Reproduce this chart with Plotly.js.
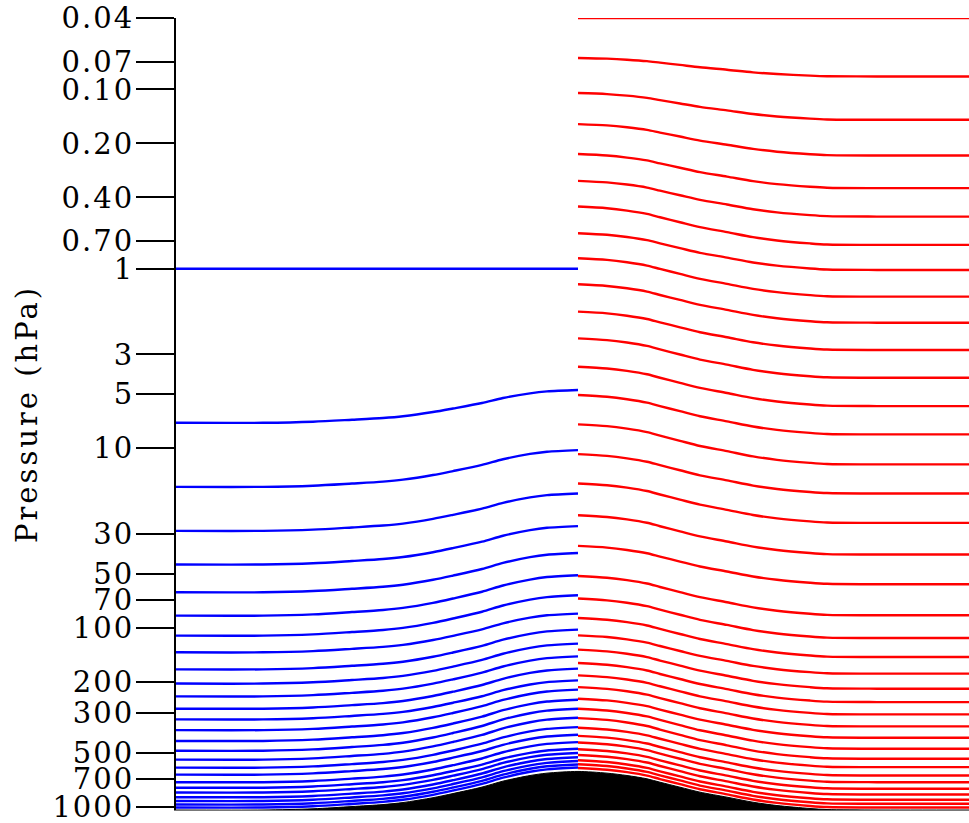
<!DOCTYPE html>
<html>
<head>
<meta charset="utf-8">
<script src="https://cdn.plot.ly/plotly-3.0.1.min.js"></script>
<style>
html,body{margin:0;padding:0;background:#fff;}
#chart{width:969px;height:823px;}
.ytick text{letter-spacing:2px;}
.g-ytitle text{letter-spacing:3px;}
</style>
</head>
<body>
<div id="chart"></div>
<script>
// Horizontal position (arbitrary distance units, 0 = top of the hill)
const terrainX  = [-402, -315, -265, -226, -195, -175, -145, -125, -96, -75, -48, -31, 0, 29, 49, 69, 82, 102, 122, 149, 175, 199, 232, 249, 299, 391];
// Surface pressure (hPa) along the section
const terrainPs = [1040, 1040, 1024, 995, 970, 945, 888, 842, 775, 718, 668, 648, 634, 648, 668, 697, 728, 776, 827, 882, 941, 982, 1020, 1034, 1040, 1040];

// Blue model levels (left half): pressure over flat ground and at the hill top
const blueFlat = [1, 7.22, 16.43, 28.9, 44.5, 63.6, 85.8, 110.9, 137.4, 171, 205.2, 241.9, 283.3, 325.1, 373, 428.6, 485.9, 544.9, 604, 660.7, 727.8, 781, 830.5, 882.2, 926.4, 969, 1007];
const bluePeak = [1, 4.74, 10.25, 17.89, 27.2, 38.4, 51.1, 66.1, 83.6, 102.7, 122.9, 144.7, 169.5, 197, 221.9, 252.4, 283.3, 318, 358.9, 395.7, 435.2, 473.6, 500, 528, 555, 580, 603];

// Red model levels (right half): pressure over flat ground and at the hill top
const redFlat = [0.04, 0.0847, 0.1477, 0.2336, 0.3553, 0.5117, 0.7361, 1.015, 1.43, 1.998, 2.837, 4.051, 5.826, 8.38, 12.32, 17.89, 26.1, 39.17, 57.35, 85.44, 114.4, 146, 180.7, 219.2, 260.3, 304.8, 355.7, 411.4, 473.6, 538.7, 600.1, 667.6, 727.8, 792, 852.2, 912, 960.5, 1007];
const redPeak = [0.04, 0.0668, 0.1048, 0.1561, 0.2294, 0.3234, 0.45, 0.6333, 0.8732, 1.2197, 1.734, 2.442, 3.516, 5.058, 7.371, 10.8, 15.73, 23.64, 35.07, 51.56, 68.93, 88.46, 110.5, 132.7, 157.7, 184.7, 214.7, 249.2, 283.3, 319.7, 361.7, 401.8, 436.9, 476.7, 512.9, 549.2, 578.1, 606.2];

// Axis ticks
const tickVals = [0.04, 0.07, 0.1, 0.2, 0.4, 0.7, 1, 3, 5, 10, 30, 50, 70, 100, 200, 300, 500, 700, 1000];
const tickText = ['0.04', '0.07', '0.10', '0.20', '0.40', '0.70', '1', '3', '5', '10', '30', '50', '70', '100', '200', '300', '500', '700', '1000'];

const psFlat = terrainPs[0];
const psPeak = terrainPs[terrainX.indexOf(0)];

// level pressure follows surface pressure linearly (hybrid coordinate)
function levelTrace(pf, pp, side, color) {
  const xs = [], ys = [];
  terrainX.forEach((x, i) => {
    if ((side === 'left' && x <= 0) || (side === 'right' && x >= 0)) {
      const ps = terrainPs[i];
      xs.push(x);
      ys.push(pp + (pf - pp) * (ps - psPeak) / (psFlat - psPeak));
    }
  });
  return {x: xs, y: ys, type: 'scatter', mode: 'lines',
          line: {color: color, width: 2.4, shape: 'spline', smoothing: 0.8},
          hoverinfo: 'skip', showlegend: false};
}

const traces = [];
blueFlat.forEach((pf, k) => traces.push(levelTrace(pf, bluePeak[k], 'left', '#0000ff')));
redFlat.forEach((pf, k) => traces.push(levelTrace(pf, redPeak[k], 'right', '#ff0000')));

// terrain: baseline below the axis, then the surface filled down to it
traces.push({
  x: [terrainX[0], terrainX[terrainX.length - 1]], y: [3000, 3000],
  type: 'scatter', mode: 'lines', line: {width: 0, color: '#000000'},
  hoverinfo: 'skip', showlegend: false
});
traces.push({
  x: terrainX, y: terrainPs,
  type: 'scatter', mode: 'lines', fill: 'tonexty', fillcolor: '#000000',
  line: {color: '#000000', width: 1, shape: 'spline', smoothing: 0.8},
  hoverinfo: 'skip', showlegend: false
});

const font = {family: 'DejaVu Serif', size: 29, color: '#000000'};

const layout = {
  width: 969, height: 823,
  margin: {l: 176, r: 0, t: 18, b: 13},
  paper_bgcolor: '#ffffff', plot_bgcolor: '#ffffff',
  showlegend: false,
  xaxis: {
    range: [terrainX[0], terrainX[terrainX.length - 1]],
    showgrid: false, zeroline: false, showticklabels: false, ticks: '',
    showline: true, linecolor: '#777777', linewidth: 1
  },
  yaxis: {
    type: 'log',
    range: [Math.log10(1040), Math.log10(0.04)],
    tickmode: 'array', tickvals: tickVals, ticktext: tickText,
    ticks: 'outside', ticklen: 38, tickwidth: 2, tickcolor: '#000000',
    ticklabeloverflow: 'allow', ticklabelstandoff: -4,
    showline: true, linecolor: '#000000', linewidth: 2,
    showgrid: false, zeroline: false,
    tickfont: font,
    title: {text: 'Pressure (hPa)', standoff: 6, font: font}
  }
};

Plotly.newPlot('chart', traces, layout, {displayModeBar: false, staticPlot: true});
</script>
</body>
</html>
